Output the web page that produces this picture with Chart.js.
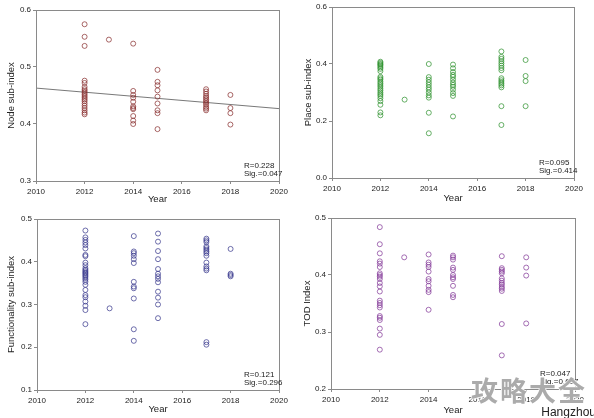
<!DOCTYPE html>
<html>
<head>
<meta charset="utf-8">
<script src="https://cdn.jsdelivr.net/npm/chart.js@4.4.1/dist/chart.umd.min.js"></script>
<style>
  body { margin: 0; background: #fff; width: 594px; height: 418px; position: relative; overflow: hidden; font-family: "Liberation Sans", Arial, sans-serif; }
  canvas { position: absolute; }
  .wm { position: absolute; left: 471px; top: 376px; line-height: 1; font-family: "Noto Sans CJK SC", sans-serif; font-weight: 700; font-size: 27px; letter-spacing: 2px; color: #ababab; -webkit-text-stroke: 1.5px #fff; paint-order: stroke fill; }
  .city { position: absolute; right: -2px; top: 405px; font-size: 12px; color: #222; }
</style>
</head>
<body>
<canvas id="node" width="297" height="209" style="left:0;top:0"></canvas>
<canvas id="place" width="297" height="209" style="left:297px;top:0"></canvas>
<canvas id="func" width="297" height="209" style="left:0;top:209px"></canvas>
<canvas id="tod" width="297" height="209" style="left:297px;top:209px"></canvas>
<div class="wm">攻略大全</div>
<div class="city">Hangzhou</div>
<script>
// survey years and x-axis ticks
const years = [2012, 2013, 2014, 2015, 2017, 2018];
const yearTicks = [2010, 2012, 2014, 2016, 2018, 2020];

// values per year, same order as years
const nodeIndex = [
  [0.575, 0.553, 0.537, 0.476, 0.472, 0.465, 0.461, 0.458, 0.455, 0.452, 0.449, 0.446, 0.443, 0.44, 0.436, 0.432, 0.428, 0.424, 0.42, 0.417],
  [0.548],
  [0.541, 0.458, 0.451, 0.446, 0.439, 0.431, 0.428, 0.426, 0.414, 0.406, 0.4],
  [0.495, 0.474, 0.468, 0.459, 0.448, 0.436, 0.424, 0.419, 0.391],
  [0.461, 0.457, 0.453, 0.449, 0.446, 0.443, 0.44, 0.437, 0.434, 0.43, 0.427, 0.424],
  [0.451, 0.428, 0.419, 0.399]
];
const placeIndex = [
  [0.408, 0.404, 0.4, 0.397, 0.393, 0.388, 0.383, 0.375, 0.355, 0.35, 0.345, 0.338, 0.332, 0.326, 0.32, 0.313, 0.307, 0.3, 0.294, 0.288, 0.28, 0.27, 0.257, 0.23, 0.22],
  [0.275],
  [0.4, 0.354, 0.345, 0.336, 0.327, 0.318, 0.31, 0.3, 0.29, 0.282, 0.229, 0.157],
  [0.398, 0.385, 0.372, 0.362, 0.355, 0.345, 0.335, 0.327, 0.32, 0.31, 0.298, 0.288, 0.216],
  [0.444, 0.425, 0.418, 0.41, 0.402, 0.394, 0.386, 0.378, 0.35, 0.343, 0.337, 0.331, 0.325, 0.318, 0.252, 0.186],
  [0.414, 0.358, 0.34, 0.252]
];
const funcIndex = [
  [0.473, 0.457, 0.451, 0.445, 0.439, 0.431, 0.416, 0.413, 0.398, 0.392, 0.385, 0.381, 0.378, 0.375, 0.372, 0.369, 0.366, 0.362, 0.358, 0.353, 0.346, 0.334, 0.322, 0.317, 0.307, 0.297, 0.287, 0.254],
  [0.291],
  [0.46, 0.424, 0.42, 0.414, 0.406, 0.397, 0.353, 0.342, 0.338, 0.314, 0.242, 0.215],
  [0.466, 0.447, 0.425, 0.406, 0.383, 0.372, 0.366, 0.36, 0.352, 0.33, 0.316, 0.3, 0.268],
  [0.454, 0.45, 0.446, 0.436, 0.432, 0.428, 0.424, 0.42, 0.414, 0.398, 0.389, 0.384, 0.38, 0.212, 0.206],
  [0.43, 0.372, 0.369, 0.366]
];
const todIndex = [
  [0.484, 0.454, 0.438, 0.424, 0.42, 0.414, 0.403, 0.4, 0.397, 0.393, 0.386, 0.38, 0.371, 0.355, 0.351, 0.347, 0.343, 0.328, 0.325, 0.321, 0.306, 0.295, 0.269],
  [0.431],
  [0.436, 0.422, 0.418, 0.414, 0.406, 0.393, 0.389, 0.381, 0.374, 0.37, 0.339],
  [0.434, 0.431, 0.427, 0.413, 0.409, 0.4, 0.396, 0.393, 0.381, 0.365, 0.361],
  [0.433, 0.412, 0.409, 0.406, 0.403, 0.394, 0.39, 0.386, 0.383, 0.379, 0.376, 0.372, 0.314, 0.259],
  [0.431, 0.413, 0.399, 0.315]
];

// fitted trend for the node panel (start and end year)
const trendYears = [2010, 2020];
const nodeTrend = [0.463, 0.427];

// y ticks
const nodeTicks = [0.3, 0.4, 0.5, 0.6];
const placeTicks = [0.0, 0.2, 0.4, 0.6];
const funcTicks = [0.1, 0.2, 0.3, 0.4, 0.5];
const todTicks = [0.2, 0.3, 0.4, 0.5];

// R / Sig. labels
const nodeStats = ['R=0.228', 'Sig.=0.047'];
const placeStats = ['R=0.095', 'Sig.=0.414'];
const funcStats = ['R=0.121', 'Sig.=0.296'];
const todStats = ['R=0.047', 'Sig.=0.687'];

const toPoints = vals => years.flatMap((yr, i) => vals[i].map(v => ({ x: yr, y: v })));

const framePlugin = {
  id: 'frame',
  afterDraw(chart, args, opts) {
    const { ctx, chartArea: a } = chart;
    ctx.save();
    ctx.strokeStyle = '#8a8a8a';
    ctx.lineWidth = 1;
    ctx.strokeRect(a.left + 0.5, a.top + 0.5, a.right - a.left, a.bottom - a.top);
    ctx.fillStyle = '#222';
    ctx.font = '8px "Liberation Sans", Arial, sans-serif';
    ctx.textBaseline = 'middle';
    ctx.fillText(opts.stats[0], a.right - 35, a.bottom - 15);
    ctx.fillText(opts.stats[1], a.right - 35, a.bottom - 7);
    ctx.restore();
  }
};

function makeChart(id, vals, color, yTitle, yTicks, stats, box, trend) {
  const datasets = [{
    data: toPoints(vals),
    pointStyle: 'circle',
    pointRadius: 2.5,
    pointHoverRadius: 2.5,
    pointBorderWidth: 0.9,
    borderColor: color,
    backgroundColor: 'rgba(0,0,0,0)'
  }];
  if (trend) {
    datasets.push({
      type: 'line',
      data: trendYears.map((x, i) => ({ x, y: trend[i] })),
      borderColor: '#555',
      borderWidth: 0.8,
      pointRadius: 0,
      fill: false
    });
  }
  const tickFont = { size: 8, family: '"Liberation Sans", Arial, sans-serif' };
  const titleFont = { size: 9.5, family: '"Liberation Sans", Arial, sans-serif' };
  return new Chart(document.getElementById(id), {
    type: 'scatter',
    data: { datasets },
    options: {
      responsive: false,
      animation: false,
      events: [],
      layout: { padding: { left: 0, top: box.top, right: box.right, bottom: 0 } },
      plugins: { legend: { display: false }, tooltip: { enabled: false }, frame: { stats } },
      scales: {
        x: {
          type: 'linear', min: 2010, max: 2020,
          afterBuildTicks: s => { s.ticks = yearTicks.map(v => ({ value: v })); },
          afterFit: s => { s.height = box.xh; },
          ticks: { font: tickFont, color: '#222', padding: 3, maxRotation: 0, callback: v => String(v) },
          grid: { drawOnChartArea: false, drawTicks: true, tickLength: 3, color: '#8a8a8a' },
          border: { display: false },
          title: { display: true, text: 'Year', font: titleFont, color: '#222', padding: { top: 0, bottom: box.xt } }
        },
        y: {
          min: yTicks[0], max: yTicks[yTicks.length - 1],
          afterBuildTicks: s => { s.ticks = yTicks.map(v => ({ value: v })); },
          afterFit: s => { s.width = box.yw; },
          ticks: { font: tickFont, color: '#222', padding: 2, callback: v => v.toFixed(1) },
          grid: { drawOnChartArea: false, drawTicks: true, tickLength: 3, color: '#8a8a8a' },
          border: { display: false },
          title: { display: true, text: yTitle, font: titleFont, color: '#222', padding: { top: box.yt, bottom: 0 } }
        }
      }
    },
    plugins: [framePlugin]
  });
}

makeChart('node', nodeIndex, 'rgba(135,45,45,0.8)', 'Node sub-index', nodeTicks, nodeStats,
  { yw: 36, right: 18, top: 10, xh: 28, xt: 4, yt: 6 }, nodeTrend);
makeChart('place', placeIndex, 'rgba(45,145,45,0.8)', 'Place sub-index', placeTicks, placeStats,
  { yw: 35, right: 20, top: 7, xh: 31, xt: 5, yt: 6 });
makeChart('func', funcIndex, 'rgba(55,55,140,0.8)', 'Functionality sub-index', funcTicks, funcStats,
  { yw: 37, right: 18, top: 10, xh: 28, xt: 3, yt: 6 });
makeChart('tod', todIndex, 'rgba(130,55,150,0.8)', 'TOD Index', todTicks, todStats,
  { yw: 34, right: 19, top: 9, xh: 29, xt: 2, yt: 5 });
</script>
</body>
</html>
